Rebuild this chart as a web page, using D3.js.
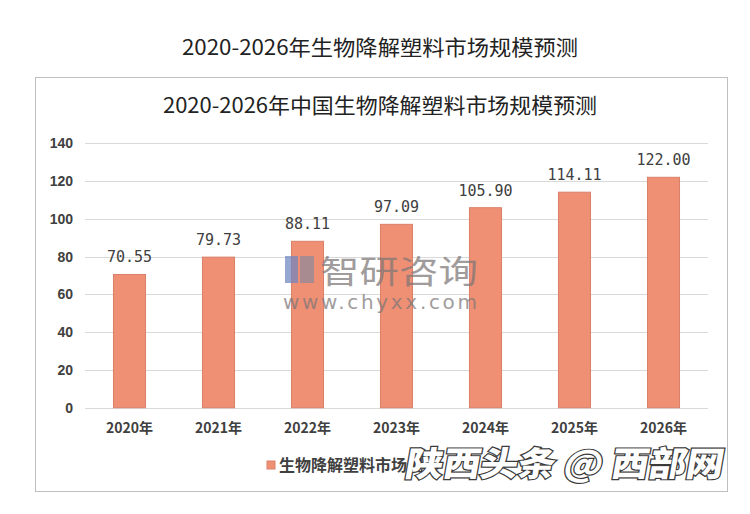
<!DOCTYPE html>
<html><head><meta charset="utf-8">
<script src="https://cdn.jsdelivr.net/npm/d3@7"></script>
<style>
html,body{margin:0;padding:0;background:#fff;}
svg{display:block;}
</style></head>
<body>
<svg id="c" width="750" height="514"></svg>
<script>
const years = ["2020年","2021年","2022年","2023年","2024年","2025年","2026年"];
const values = [70.55, 79.73, 88.11, 97.09, 105.90, 114.11, 122.00];
const yTicks = [0,20,40,60,80,100,120,140];
const outerTitle = "2020-2026年生物降解塑料市场规模预测";
const innerTitle = "2020-2026年中国生物降解塑料市场规模预测";
const seriesName = "生物降解塑料市场规模";

const svg = d3.select("#c");
const cjk = "'Noto Sans CJK SC','Noto Sans',sans-serif";

svg.append("text").attr("x",380).attr("y",55).attr("text-anchor","middle")
  .attr("textLength",396).attr("lengthAdjust","spacingAndGlyphs")
  .style("font-family",cjk).style("font-size","21px").attr("fill","#222").text(outerTitle);

svg.append("rect").attr("x",35.5).attr("y",77.5).attr("width",692).attr("height",414)
  .attr("fill","#fff").attr("stroke","#bfbfbf");

svg.append("text").attr("x",380).attr("y",113).attr("text-anchor","middle")
  .attr("textLength",434).attr("lengthAdjust","spacingAndGlyphs")
  .style("font-family",cjk).style("font-size","21px").attr("fill","#222").text(innerTitle);

const x = d3.scaleBand().domain(years).range([85,708]).paddingInner(0.64).paddingOuter(0.32);
const y = d3.scaleLinear().domain([0,140]).range([407.7,143.3]);

const g = svg.append("g");
g.selectAll("line.grid").data(yTicks).join("line").attr("class","grid")
  .attr("x1",85).attr("x2",708).attr("y1",d=>Math.round(y(d))+0.5).attr("y2",d=>Math.round(y(d))+0.5)
  .attr("stroke","#d9d9d9").attr("stroke-width",1);

const yAxis = d3.axisLeft(y).tickValues(yTicks).tickSize(0).tickPadding(0);
const ya = svg.append("g").attr("transform","translate(73,0)").call(yAxis);
ya.select(".domain").remove();
ya.selectAll("text").style("font-family","'Liberation Sans',Arial,sans-serif").style("font-size","14px")
  .style("font-weight","bold").attr("fill","#404040");

// bars
g.selectAll("rect.bar").data(values).join("rect").attr("class","bar")
  .attr("x",(d,i)=>x(years[i])).attr("width",x.bandwidth())
  .attr("y",d=>y(d)).attr("height",d=>y(0)-y(d))
  .attr("fill","#ef9075").attr("stroke","#d9806a").attr("stroke-width",1);

// watermark 智研咨询
const wm = svg.append("g").attr("opacity",0.72);
wm.append("rect").attr("x",285).attr("y",256).attr("width",13).attr("height",27).attr("fill","#6f86c2");
wm.append("rect").attr("x",300).attr("y",256).attr("width",14).attr("height",27).attr("fill","#8e8a9c");
wm.append("text").attr("x",320).attr("y",283).attr("textLength",158).attr("lengthAdjust","spacingAndGlyphs")
  .style("font-family",cjk).style("font-size","32px").attr("fill","#7d7777").text("智研咨询");
wm.append("text").attr("x",283).attr("y",309).attr("textLength",194).attr("lengthAdjust","spacing")
  .style("font-family","'DejaVu Sans',sans-serif").style("font-size","20px")
  .attr("fill","#7d7777").text("www.chyxx.com");

// value labels
g.selectAll("text.val").data(values).join("text").attr("class","val")
  .attr("x",(d,i)=>x(years[i])+x.bandwidth()/2).attr("y",d=>y(d)-12)
  .attr("text-anchor","middle").style("font-family","'DejaVu Sans Mono',monospace")
  .style("font-size","15px").attr("fill","#404040")
  .text(d=>d.toFixed(2));

const xAxis = d3.axisBottom(x).tickSize(0).tickPadding(0);
const xa = svg.append("g").attr("transform","translate(0,423)").call(xAxis);
xa.select(".domain").remove();
xa.selectAll("text").style("font-family",cjk).style("font-size","14px")
  .style("font-weight","bold").attr("fill","#404040").attr("dy","0.7em");

// legend
svg.append("rect").attr("x",267).attr("y",461).attr("width",8).attr("height",8).attr("fill","#ef9075")
  .attr("stroke","#d9806a");
svg.append("text").attr("x",279).attr("y",471).style("font-family",cjk).style("font-size","16px")
  .style("font-weight","bold").attr("fill","#404040").text(seriesName);

// overlay watermark
svg.append("text").attr("x",0).attr("y",0)
  .attr("transform","translate(404,476) skewX(-10)")
  .attr("textLength",318).attr("lengthAdjust","spacingAndGlyphs")
  .style("font-family",cjk).style("font-size","34px").style("font-weight","900")
  .attr("fill","#fff").attr("stroke","#3a3a3a").attr("stroke-width",2.4).attr("paint-order","stroke")
  .text("陕西头条 @ 西部网");
</script>
</body></html>
